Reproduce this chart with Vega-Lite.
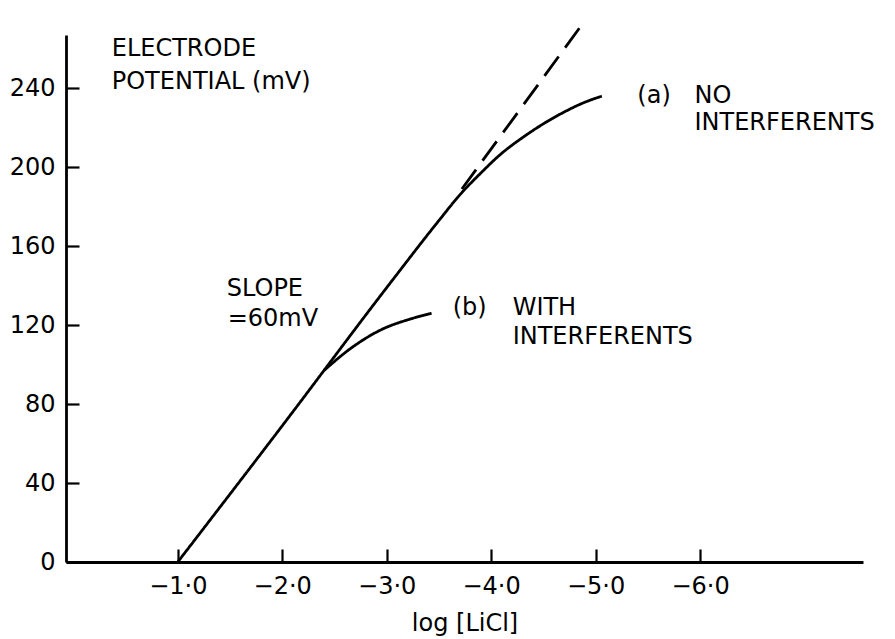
{
  "$schema": "https://vega.github.io/schema/vega-lite/v6.json",
  "autosize": {"type": "none"},
  "width": 797,
  "height": 527,
  "padding": {"left": 66, "top": 35, "right": 32, "bottom": 77},
  "background": "white",
  "config": {
    "view": {"stroke": null},
    "font": "DejaVu Sans",
    "axis": {
      "domainColor": "black", "domainWidth": 2.8, "tickColor": "black", "tickWidth": 2.2,
      "labelColor": "black", "titleColor": "black", "grid": false,
      "labelFont": "DejaVu Sans", "titleFont": "DejaVu Sans", "labelFontSize": 24, "titleFontSize": 24, "titleFontWeight": "normal"
    }
  },
  "datasets": {
    "curves": [
      {"x": -1.0, "y": 0, "series": "a"},
      {"x": -2.0, "y": 69, "series": "a"},
      {"x": -3.0, "y": 139, "series": "a"},
      {"x": -3.5, "y": 173, "series": "a"},
      {"x": -3.7, "y": 186, "series": "a"},
      {"x": -3.9, "y": 197, "series": "a"},
      {"x": -4.1, "y": 207, "series": "a"},
      {"x": -4.3, "y": 215, "series": "a"},
      {"x": -4.5, "y": 222, "series": "a"},
      {"x": -4.7, "y": 228, "series": "a"},
      {"x": -4.9, "y": 233, "series": "a"},
      {"x": -5.06, "y": 236, "series": "a"},
      {"x": -2.4, "y": 97, "series": "b"},
      {"x": -2.65, "y": 108, "series": "b"},
      {"x": -2.96, "y": 118, "series": "b"},
      {"x": -3.22, "y": 123, "series": "b"},
      {"x": -3.43, "y": 126, "series": "b"},
      {"x": -3.72, "y": 189, "series": "ideal"},
      {"x": -4.88, "y": 273, "series": "ideal"}
    ],
    "notes": [
      {"x": -0.368, "y": 256.5, "label": "ELECTRODE"},
      {"x": -0.368, "y": 239.5, "label": "POTENTIAL (mV)"},
      {"x": -1.469, "y": 134.6, "label": "SLOPE"},
      {"x": -1.478, "y": 119.5, "label": "=60mV"},
      {"x": -5.40, "y": 232.5, "label": "(a)"},
      {"x": -5.947, "y": 232.5, "label": "NO"},
      {"x": -5.947, "y": 218.9, "label": "INTERFERENTS"},
      {"x": -3.632, "y": 125.1, "label": "(b)"},
      {"x": -4.206, "y": 125.1, "label": "WITH"},
      {"x": -4.206, "y": 110.4, "label": "INTERFERENTS"}
    ]
  },
  "layer": [
    {
      "data": {"name": "curves"},
      "mark": {"type": "line", "interpolate": "monotone", "color": "black", "strokeWidth": 2.8},
      "encoding": {
        "x": {
          "field": "x", "type": "quantitative",
          "scale": {"domain": [-7.56, 0.07], "reverse": true, "nice": false, "zero": false},
          "axis": {
            "values": [-1, -2, -3, -4, -5, -6],
            "labelExpr": "replace(format(datum.value, '.1f'), '.', '·')",
            "tickSize": -13, "labelPadding": 25, "title": "log [LiCl]", "titlePadding": 13
          }
        },
        "y": {
          "field": "y", "type": "quantitative",
          "scale": {"domain": [0, 267], "nice": false, "zero": false},
          "axis": {
            "values": [0, 40, 80, 120, 160, 200, 240],
            "tickSize": -13, "labelPadding": 24, "title": null
          }
        },
        "detail": {"field": "series"},
        "strokeDash": {
          "field": "series", "type": "nominal",
          "scale": {"domain": ["a", "b", "ideal"], "range": [[1, 0], [1, 0], [24, 11]]},
          "legend": null
        }
      }
    },
    {
      "data": {"name": "notes"},
      "mark": {"type": "text", "align": "left", "baseline": "alphabetic", "fontSize": 24, "font": "DejaVu Sans", "color": "black"},
      "encoding": {
        "x": {"field": "x", "type": "quantitative"},
        "y": {"field": "y", "type": "quantitative"},
        "text": {"field": "label"}
      }
    }
  ]
}
